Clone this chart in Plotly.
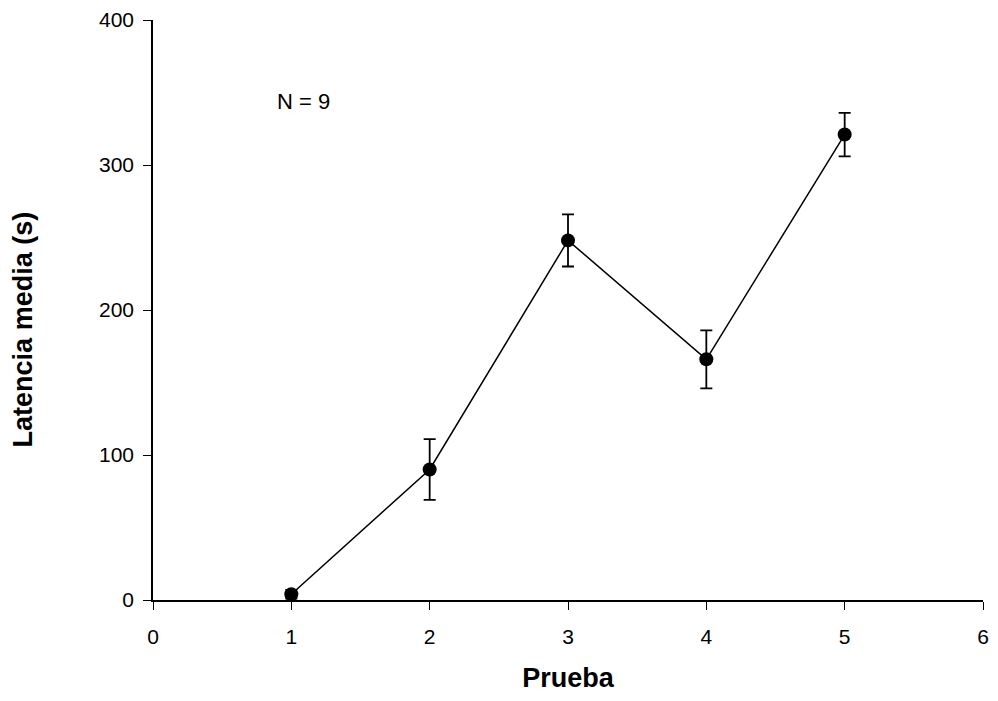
import plotly.graph_objects as go

prueba = [1, 2, 3, 4, 5]
latencia = [4, 90, 248, 166, 321]
error = [3, 21, 18, 20, 15]

fig = go.Figure()
fig.add_trace(go.Scatter(
    x=prueba, y=latencia, mode="lines+markers",
    line=dict(color="black", width=1.5),
    marker=dict(color="black", size=14, symbol="circle"),
    error_y=dict(type="data", array=error, visible=True, color="black", thickness=1.8, width=6),
    showlegend=False,
))

fig.add_annotation(x=1.09, y=344, text="N = 9", showarrow=False,
                   font=dict(family="Liberation Sans, Arial", size=22, color="black"))

# Y-axis title as annotation (placed lower than the axis centre, as in the reference)
fig.add_annotation(xref="paper", yref="paper", x=-0.157, y=0.466, text="<b>Latencia media (s)</b>",
                   textangle=-90, showarrow=False, xanchor="center", yanchor="middle",
                   font=dict(family="Liberation Sans, Arial", size=27, color="black"))

fig.update_layout(
    width=990, height=685,
    margin=dict(l=145, r=15, t=12, b=93, autoexpand=False),
    paper_bgcolor="white", plot_bgcolor="white",
    font=dict(family="Liberation Sans, Arial", color="black"),
)
fig.update_xaxes(range=[0, 6], tickvals=[0, 1, 2, 3, 4, 5, 6], showgrid=False, zeroline=False,
                 showline=True, linecolor="black", linewidth=1.5,
                 ticks="outside", ticklen=8, tickcolor="black", tickwidth=1,
                 ticklabelstandoff=9, ticklabeloverflow="allow",
                 tickfont=dict(size=21), title=dict(text="<b>Prueba</b>", font=dict(size=27), standoff=33))
fig.update_yaxes(range=[0, 400], tickvals=[0, 100, 200, 300, 400], showgrid=False, zeroline=False,
                 showline=True, linecolor="black", linewidth=1.5,
                 ticks="outside", ticklen=8, tickcolor="black", tickwidth=1,
                 ticklabelstandoff=5, ticklabeloverflow="allow",
                 tickfont=dict(size=21))

fig.write_html("out.html")
